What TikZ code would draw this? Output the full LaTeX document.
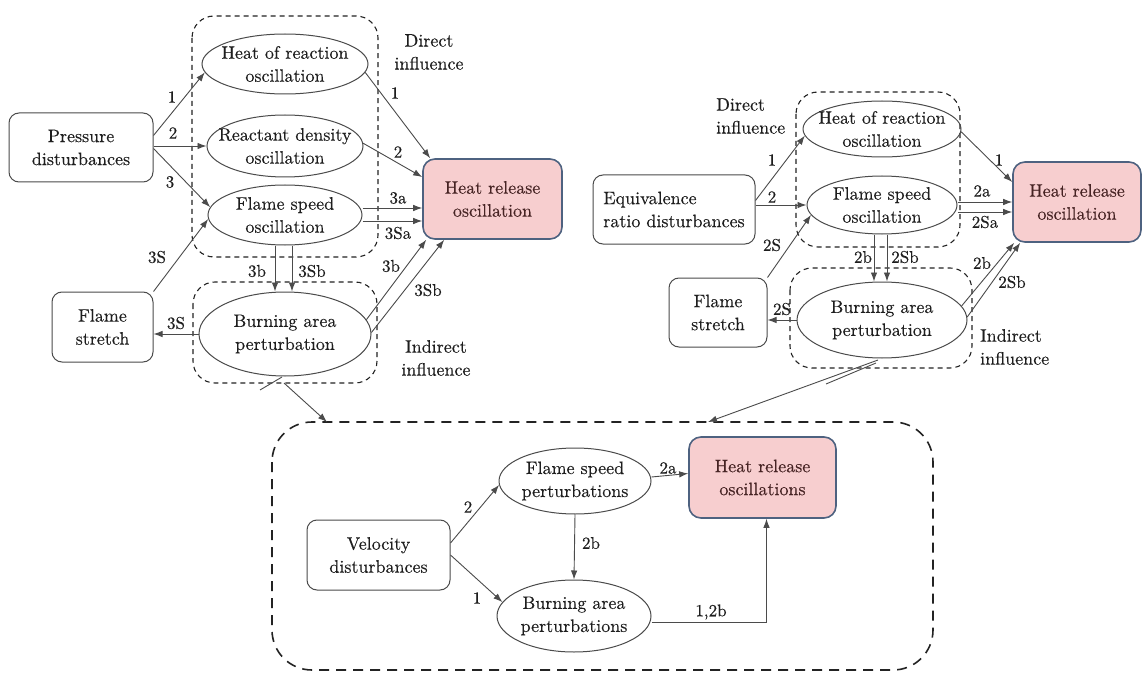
\documentclass[tikz,border=0pt]{standalone}
\usepackage{fontspec}
\newfontfamily\lmt{lmroman10-regular.otf}[FakeBold=0.25]
\usetikzlibrary{arrows.meta,shapes.geometric}
\definecolor{ln}{RGB}{75,75,75}
\definecolor{tx}{RGB}{30,30,30}
\definecolor{pinkf}{RGB}{247,206,207}
\definecolor{hrborder}{RGB}{78,98,128}
\definecolor{hrtext}{RGB}{70,35,35}
\definecolor{dsh}{RGB}{35,35,35}
\begin{document}
\begin{tikzpicture}[x=1pt,y=-1pt,
 every node/.style={text=tx, font=\lmt\fontsize{18}{23}\selectfont},
 rbox/.style={draw=ln, line width=1pt, rounded corners=10pt, align=center, inner sep=0pt},
 ell/.style={draw=ln, line width=1pt, ellipse, inner sep=0pt},
 note/.style={align=center, inner sep=0pt},
 hrbox/.style={draw=hrborder, line width=1.6pt, fill=pinkf, rounded corners=12pt, align=center, inner sep=0pt, text=hrtext},
 dbox/.style={draw=dsh, line width=1.1pt, dash pattern=on 5pt off 4pt, rounded corners=22pt},
 bigbox/.style={draw=dsh, line width=1.6pt, dash pattern=on 10pt off 7pt, rounded corners=40pt},
 arr/.style={draw=ln, line width=0.9pt, -{Latex[length=9pt,width=6.5pt]}},
 plain/.style={draw=ln, line width=0.9pt},
 lab/.style={font=\lmt\fontsize{17}{20}\selectfont, inner sep=0pt},
]
\useasboundingbox[fill=white] (0,0) rectangle (1144,674);

% ---------------- left diagram ----------------
\draw[dbox] (192,16) rectangle (378,257);
\draw[dbox] (193,282) rectangle (377,383);
\node[rbox, minimum width=144pt, minimum height=69pt] (pd) at (81,147.5) {Pressure\\disturbances};
\node[rbox, minimum width=101pt, minimum height=70pt] (fsl) at (102.5,327) {Flame\\stretch};
\node[ell, minimum width=166pt, minimum height=60pt, label={[note]center:{Heat of reaction\\oscillation}}] (hr1) at (285,64) {};
\node[ell, minimum width=156pt, minimum height=62pt, label={[note]center:{Reactant density\\oscillation}}] (rd1) at (285,146) {};
\node[ell, minimum width=154pt, minimum height=60pt, label={[note]center:{Flame speed\\oscillation}}] (fs1) at (285,215) {};
\node[ell, minimum width=172pt, minimum height=84pt, label={[note]center:{Burning area\\perturbation}}] (ba1) at (285,334) {};
\node[hrbox, minimum width=139pt, minimum height=80pt] (hrl) at (492.5,199) {Heat release\\oscillation};
\node[note] (di1) at (429,52) {Direct\\influence};
\node[note] (ii1) at (436,358) {Indirect\\influence};

\draw[arr] ([yshift=12pt]pd.east) -- (hr1.186);
\draw[arr] (pd.east |- rd1.west) -- (rd1.west);
\draw[arr] ([yshift=-1pt]pd.east) -- (fs1.174);
\draw[arr] (fsl.north east) -- (fs1.183);
\draw[arr] (hr1.354) -- ([xshift=8pt]hrl.north west);
\draw[arr] (rd1.2) -- ([yshift=22pt]hrl.west);
\draw[arr] ([yshift=7pt]fs1.east) -- ([yshift=-9pt]hrl.west);
\draw[arr] ([yshift=-6pt]fs1.east) -- ([yshift=-22pt]hrl.west);
\draw[arr] ([xshift=-10pt]fs1.south) -- ([xshift=-10pt]ba1.north);
\draw[arr] ([xshift=7pt]fs1.south) -- ([xshift=7pt]ba1.north);
\draw[arr] (ba1.10) -- ([xshift=4pt]hrl.south west);
\draw[arr] (ba1.1) -- ([xshift=22pt]hrl.south west);
\draw[arr] (ba1.west) -- (fsl.east |- ba1.west);

\node[lab] (a1) at (172,97) {1};
\node[lab] (a2) at (173,133) {2};
\node[lab] (a3) at (170,182) {3};
\node[lab] (a4) at (157,257) {3S};
\node[lab] (a5) at (176,323) {3S};
\node[lab] (a6) at (395,93) {1};
\node[lab] (a7) at (398,152) {2};
\node[lab] (a8) at (398,198) {3a};
\node[lab] (a9) at (398,233) {3Sa};
\node[lab] (a10) at (257,271) {3b};
\node[lab] (a11) at (312,271) {3Sb};
\node[lab] (a12) at (391,266) {3b};
\node[lab] (a13) at (428,290) {3Sb};

% ---------------- right diagram ----------------
\draw[dbox] (796,92) rectangle (960,247);
\draw[dbox] (790,268) rectangle (972,368);
\node[rbox, minimum width=162pt, minimum height=69pt, align=left] (eq) at (674,209.5) {Equivalence\\ratio disturbances};
\node[rbox, minimum width=98pt, minimum height=69pt] (fsr) at (718,312.5) {Flame\\stretch};
\node[ell, minimum width=158pt, minimum height=56pt, label={[note]center:{Heat of reaction\\oscillation}}] (hr2) at (882,129) {};
\node[ell, minimum width=150pt, minimum height=58pt, label={[note]center:{Flame speed\\oscillation}}] (fs2) at (882,205) {};
\node[ell, minimum width=170pt, minimum height=76pt, label={[note]center:{Burning area\\perturbation}}] (ba2) at (882,320) {};
\node[hrbox, minimum width=128pt, minimum height=80pt] (hrr) at (1077,202) {Heat release\\oscillation};
\node[note, align=left, anchor=west] (di2) at (716,116) {Direct\\influence};
\node[note, align=left, anchor=west] (ii2) at (980,347) {Indirect\\influence};

\draw[arr] ([yshift=9pt]eq.east) -- (hr2.185);
\draw[arr] ([yshift=4.5pt]eq.east) -- (fs2.west);
\draw[arr] (fsr.north east) -- (fs2.188);
\draw[arr] (hr2.358) -- ([yshift=20pt]hrr.west);
\draw[arr] ([yshift=3pt]fs2.east) -- (hrr.west);
\draw[arr] ([yshift=-7pt]fs2.east) -- ([yshift=-10pt]hrr.west);
\draw[arr] ([xshift=-8pt]fs2.south) -- ([xshift=-8pt]ba2.north);
\draw[arr] ([xshift=5pt]fs2.south) -- ([xshift=5pt]ba2.north);
\draw[arr] (ba2.west) -- (fsr.east |- ba2.west);
\draw[arr] (ba2.10) -- ([xshift=2pt]hrr.south west);
\draw[arr] (ba2.2) -- ([xshift=8pt]hrr.south west);

\node[lab] (b1) at (772,160) {1};
\node[lab] (b2) at (772,197) {2};
\node[lab] (b3) at (772,245) {2S};
\node[lab] (b4) at (999,160) {1};
\node[lab] (b5) at (982,191) {2a};
\node[lab] (b6) at (985,222) {2Sa};
\node[lab] (b7) at (863,257) {2b};
\node[lab] (b8) at (905,257) {2Sb};
\node[lab] (b9) at (782,309) {2S};
\node[lab] (b10) at (982,263) {2b};
\node[lab] (b11) at (1012,282) {2Sb};

% ---------------- bottom diagram ----------------
\draw[bigbox] (272,422) rectangle (933,670);
\coordinate (lstart) at (284,383);
\coordinate (ltip) at (327,422);
\coordinate (rstart) at (878,360);
\coordinate (rtip) at (708,422);
\draw[plain] (260,390) -- (282,377);
\draw[arr] (lstart) -- (ltip);
\draw[plain] (876,363) -- (826,384);
\draw[arr] (rstart) -- (rtip);

\node[rbox, minimum width=143pt, minimum height=70pt] (vd) at (378.5,555) {Velocity\\disturbances};
\node[ell, minimum width=152pt, minimum height=66pt, label={[note]center:{Flame speed\\perturbations}}] (fsp) at (575,481) {};
\node[ell, minimum width=154pt, minimum height=72pt, label={[note]center:{Burning area\\perturbations}}] (bap) at (574,616) {};
\node[hrbox, minimum width=147pt, minimum height=81pt] (hrb) at (762.5,477.5) {Heat release\\oscillations};

\draw[arr] ([yshift=12pt]vd.east) -- (fsp.183);
\draw[arr] (vd.east) -- (bap.169);
\draw[arr] ([yshift=4pt]fsp.east) -- ([yshift=4pt]hrb.west);
\draw[arr] (fsp.south) -- (bap.north);
\draw[arr] ([yshift=-6pt]bap.east) -| ([xshift=4pt]hrb.south);

\node[lab] (c1) at (468,507) {2};
\node[lab] (c2) at (477,598) {1};
\node[lab] (c3) at (668,468) {2a};
\node[lab] (c4) at (591,543) {2b};
\node[lab] (c5) at (711,612) {1,2b};
\end{tikzpicture}
\end{document}
